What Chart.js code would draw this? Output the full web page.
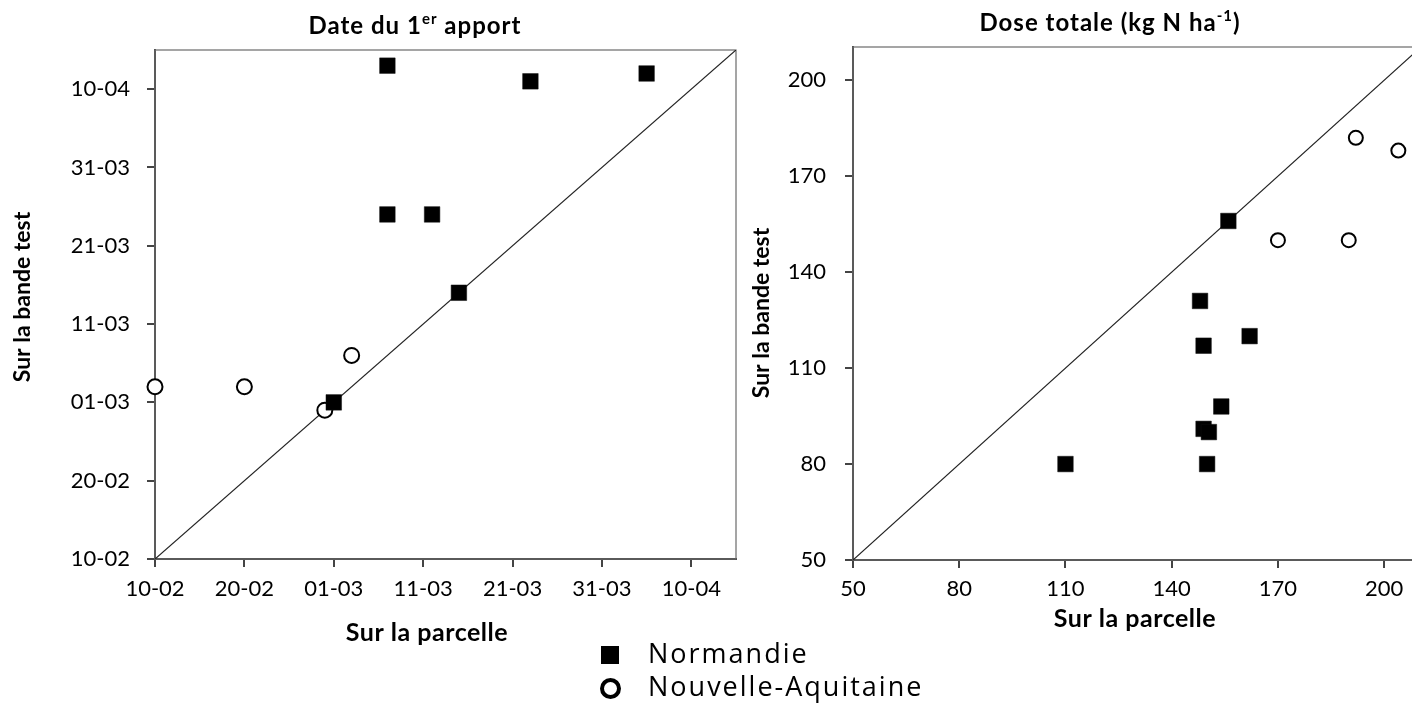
<!DOCTYPE html>
<html>
<head>
<meta charset="utf-8">
<script src="https://cdn.jsdelivr.net/npm/chart.js@4.4.0/dist/chart.umd.min.js"></script>
<style>
    html, body { margin: 0; padding: 0; background: #fff; overflow: hidden; width: 1412px; height: 704px; }
    canvas { position: absolute; top: 0; }
    #chartDate { left: 0; }
    #chartDose { left: 740px; }
    .legend-row { position: absolute; left: 648px; font-family: 'Open Sans', sans-serif; font-size: 27px; line-height: 27px; letter-spacing: 2px; color: #000; white-space: nowrap; }
    .legend-mark { position: absolute; box-sizing: border-box; }
</style>
</head>
<body>
<canvas id="chartDate" width="760" height="660"></canvas>
<canvas id="chartDose" width="700" height="660"></canvas>

<div class="legend-mark" style="left:601px; top:646px; width:18px; height:18px; background:#000;"></div>
<div class="legend-row" style="top:639px;">Normandie</div>
<div class="legend-mark" style="left:600px; top:678px; width:21px; height:21px; border:4.5px solid #000; border-radius:50%;"></div>
<div class="legend-row" style="top:672px;">Nouvelle-Aquitaine</div>

<script>
    // ---- data ----
    // date of the 1st application, "dd-mm" (2016, leap year)
    const normParcelleDate = ['07-03', '23-03', '05-04', '07-03', '12-03', '15-03', '01-03'];
    const normBandeDate    = ['13-04', '11-04', '12-04', '25-03', '25-03', '15-03', '01-03'];
    const naqParcelleDate  = ['10-02', '20-02', '29-02', '03-03'];
    const naqBandeDate     = ['03-03', '03-03', '29-02', '07-03'];
    const dateTicks = ['10-02', '20-02', '01-03', '11-03', '21-03', '31-03', '10-04'];
    const dateMin = '10-02';
    const dateMax = '15-04';

    // total dose (kg N/ha)
    const normParcelleDose = [156, 148, 149, 162, 154, 149, 150.5, 150, 110];
    const normBandeDose    = [156, 131, 117, 120, 98, 91, 90, 80, 80];
    const naqParcelleDose  = [192, 204, 170, 190];
    const naqBandeDose     = [182, 178, 150, 150];
    const doseTicks = [50, 80, 110, 140, 170, 200];
    const doseMin = 50;
    const doseMax = 210.4;

    const seriesNames = ['Normandie', 'Nouvelle-Aquitaine'];

    // ---- helpers ----
    function dayOf(s) {
        const [d, m] = s.split('-').map(Number);
        return Math.round((Date.UTC(2016, m - 1, d) - Date.UTC(2016, 1, 10)) / 86400000);
    }
    const toPoints = (xs, ys, f) => xs.map((x, i) => ({x: f(x), y: f(ys[i])}));
    const same = v => v;

    // texts with superscript, rotated titles etc
    const figTexts = {
        id: 'figTexts',
        afterDraw(chart, args, opts) {
            const ctx = chart.ctx;
            (opts.items || []).forEach(it => {
                ctx.save();
                ctx.translate(it.x, it.y);
                if (it.rotate) ctx.rotate(it.rotate);
                ctx.fillStyle = '#000';
                ctx.textBaseline = 'middle';
                ctx.letterSpacing = (it.spacing || 0) + 'px';
                const fontFor = p => 'bold ' + (p.sup ? Math.round(it.size * 0.62) : it.size) + 'px Lato';
                const widths = it.parts.map(p => { ctx.font = fontFor(p); return ctx.measureText(p.text).width; });
                let x = -widths.reduce((a, b) => a + b, 0) / 2;
                it.parts.forEach((p, i) => {
                    ctx.font = fontFor(p);
                    ctx.fillText(p.text, x, p.sup ? -it.size * 0.28 : 0);
                    x += widths[i];
                });
                ctx.restore();
            });
        }
    };

    // thin frame around the plot area
    const plotFrame = {
        id: 'plotFrame',
        beforeDatasetsDraw(chart) {
            const {ctx, chartArea: a} = chart;
            ctx.save();
            ctx.strokeStyle = '#6a6a6a';
            ctx.lineWidth = 1.2;
            ctx.strokeRect(a.left, a.top, a.right - a.left, a.bottom - a.top);
            ctx.restore();
        }
    };

    function axis(min, max, tickValues, labelOf, size, padding) {
        return {
            type: 'linear',
            min: min,
            max: max,
            afterBuildTicks: s => { s.ticks = tickValues.map(v => ({value: v})); },
            afterFit: s => { if (s.isHorizontal()) s.height = size; else s.width = size; },
            ticks: {
                autoSkip: false,
                maxRotation: 0,
                padding: padding,
                color: '#000',
                font: {family: 'Lato', size: 22},
                callback: v => labelOf(v)
            },
            grid: {display: true, drawOnChartArea: false, drawTicks: true, tickLength: 8, color: '#444', lineWidth: 2},
            border: {display: true, color: '#444', width: 2}
        };
    }

    function scatterChart(id, cfg) {
        return new Chart(document.getElementById(id), {
            type: 'scatter',
            data: {
                datasets: [
                    {
                        label: seriesNames[0],
                        data: cfg.norm,
                        pointStyle: 'rect',
                        pointRadius: 11,
                        backgroundColor: '#000',
                        borderColor: '#111',
                        borderWidth: 0.5,
                        clip: false
                    },
                    {
                        label: seriesNames[1],
                        data: cfg.naq,
                        pointStyle: 'circle',
                        pointRadius: cfg.circleRadius,
                        backgroundColor: '#fff',
                        borderColor: '#000',
                        borderWidth: 2,
                        clip: false
                    },
                    {
                        label: '1:1',
                        data: [{x: cfg.min, y: cfg.min}, {x: cfg.max, y: cfg.max}],
                        showLine: true,
                        pointRadius: 0,
                        borderColor: '#222',
                        borderWidth: 1.2
                    }
                ]
            },
            options: {
                responsive: false,
                animation: false,
                events: [],
                layout: {padding: cfg.padding},
                scales: {
                    x: axis(cfg.min, cfg.max, cfg.ticks, cfg.label, cfg.xHeight, cfg.xPad),
                    y: axis(cfg.min, cfg.max, cfg.ticks, cfg.label, cfg.yWidth, cfg.yPad)
                },
                plugins: {
                    legend: {display: false},
                    tooltip: {enabled: false},
                    figTexts: {items: cfg.texts}
                }
            },
            plugins: [plotFrame, figTexts]
        });
    }

    const dateTickDays = dateTicks.map(dayOf);

    scatterChart('chartDate', {
        norm: toPoints(normParcelleDate, normBandeDate, dayOf),
        naq: toPoints(naqParcelleDate, naqBandeDate, dayOf),
        min: dayOf(dateMin),
        max: dayOf(dateMax),
        ticks: dateTickDays,
        label: v => dateTicks[dateTickDays.indexOf(v)],
        circleRadius: 7.5,
        padding: {left: 0, right: 24, top: 50, bottom: 0},
        xHeight: 101, xPad: 9,
        yWidth: 155, yPad: 17,
        texts: [
            {x: 415, y: 26, size: 24, spacing: 1, parts: [{text: 'Date du 1'}, {text: 'er', sup: true}, {text: ' apport'}]},
            {x: 427, y: 633, size: 25, spacing: 0.5, parts: [{text: 'Sur la parcelle'}]},
            {x: 23, y: 297, size: 23, rotate: -Math.PI / 2, parts: [{text: 'Sur la bande test'}]}
        ]
    });

    scatterChart('chartDose', {
        norm: toPoints(normParcelleDose, normBandeDose, same),
        naq: toPoints(naqParcelleDose, naqBandeDose, same),
        min: doseMin,
        max: doseMax,
        ticks: doseTicks,
        label: v => String(v),
        circleRadius: 7,
        padding: {left: 0, right: 19, top: 47, bottom: 0},
        xHeight: 100, xPad: 8,
        yWidth: 113, yPad: 19,
        texts: [
            {x: 370, y: 23, size: 24, spacing: 1, parts: [{text: 'Dose totale (kg N ha'}, {text: '-1', sup: true}, {text: ')'}]},
            {x: 395, y: 619, size: 25, spacing: 0.5, parts: [{text: 'Sur la parcelle'}]},
            {x: 22, y: 313, size: 23, rotate: -Math.PI / 2, parts: [{text: 'Sur la bande test'}]}
        ]
    });
</script>
</body>
</html>
